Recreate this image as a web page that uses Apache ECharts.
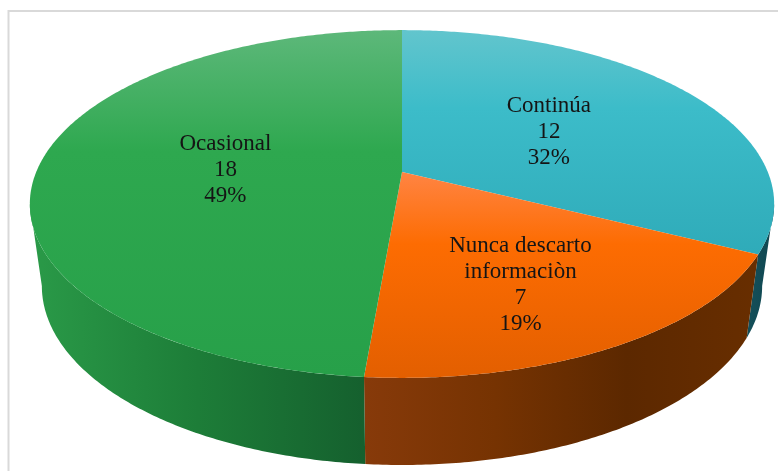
<!DOCTYPE html>
<html>
<head>
<meta charset="utf-8">
<style>
  html, body { margin: 0; padding: 0; background: #fff; }
  #chart { width: 778px; height: 471px; }
</style>
<script src="https://cdn.jsdelivr.net/npm/echarts@6/dist/echarts.min.js"></script>
</head>
<body>
<div id="chart"></div>
<script>
const categories = ['Continúa', 'Nunca descarto\ninformaciòn', 'Ocasional'];
const values = [12, 7, 18];

const topColors = [
  ['#62c5cd', '#3cbcc9', '#2fabb9'],
  ['#ff8443', '#fd6c02', '#e35f00'],
  ['#5db87a', '#2ea84f', '#27a049']
];
const wallColors = [
  ['#15505a', '#0f4650'],
  ['#873a0a', '#763302', '#5c2800', '#682e00'],
  ['#2a9a48', '#1d7d38', '#15602e']
];

// perspective of the disc
const k = 0.184;
const topFace = { cx: 402, cy: 172, sx: 365.8, sy: 168 };
const bottomFace = { cx: 402, cy: 253, sx: 354, sy: 173 };
const edgeAngle = Math.PI / 2 + Math.asin(k);   // where the rim turns away from the viewer

// label placement: fraction of radius along the mid angle, then a vertical nudge
const labelRadius = [0.494, 0.6, 0.485];
const labelNudge = [1, 16, 1];

const total = values.reduce((a, b) => a + b, 0);

const project = (face, r, a) => {
  const X = r * Math.sin(a);
  const Y = -r * Math.cos(a);
  const w = 1 - k * Y;
  return [face.cx + face.sx * X / w, face.cy + face.sy * Y / w];
};

const sliceAngles = (i) => {
  const before = values.slice(0, i).reduce((a, b) => a + b, 0);
  return [before / total * Math.PI * 2, (before + values[i]) / total * Math.PI * 2];
};

const arc = (face, from, to) => {
  const pts = [];
  const n = Math.max(2, Math.ceil(Math.abs(to - from) / 0.01));
  for (let j = 0; j <= n; j++) {
    pts.push(project(face, 1, from + (to - from) * j / n));
  }
  return pts;
};

const stops = (list) => list.map((color, j) => ({ offset: j / (list.length - 1), color }));

const renderWall = (params, api) => {
  const i = params.dataIndex;
  const [a0, a1] = sliceAngles(i);
  const from = Math.max(a0, edgeAngle);
  const to = Math.min(a1, Math.PI * 2 - edgeAngle);
  if (to <= from) return;
  const points = arc(topFace, from, to).concat(arc(bottomFace, from, to).reverse());
  return {
    type: 'polygon',
    shape: { points },
    style: {
      fill: new echarts.graphic.LinearGradient(0, 0, 1, 0, stops(wallColors[i]))
    }
  };
};

const renderTop = (params, api) => {
  const i = params.dataIndex;
  const [a0, a1] = sliceAngles(i);
  const points = [project(topFace, 0, 0)].concat(arc(topFace, a0, a1));
  const mid = (a0 + a1) / 2;
  const labelAt = project(topFace, labelRadius[i], mid);
  const pct = Math.round(api.value(0) / total * 100);
  return {
    type: 'group',
    children: [
      {
        type: 'polygon',
        shape: { points },
        style: {
          fill: new echarts.graphic.LinearGradient(0, 0, 0, 1, [
            { offset: 0, color: topColors[i][0] },
            { offset: 0.35, color: topColors[i][1] },
            { offset: 1, color: topColors[i][2] }
          ])
        }
      },
      {
        type: 'text',
        z2: 10,
        x: labelAt[0],
        y: labelAt[1] + labelNudge[i],
        style: {
          text: categories[i] + '\n' + api.value(0) + '\n' + pct + '%',
          font: '23px "Liberation Serif"',
          lineHeight: 26,
          fill: '#151515',
          align: 'center',
          verticalAlign: 'middle'
        }
      }
    ]
  };
};

const chart = echarts.init(document.getElementById('chart'), null, { renderer: 'canvas' });
chart.setOption({
  animation: false,
  backgroundColor: '#ffffff',
  graphic: [{
    type: 'rect',
    shape: { x: 8.5, y: 11, width: 800, height: 500 },
    style: { fill: 'none', stroke: '#d9d9d9', lineWidth: 2 },
    z: -1
  }],
  series: [
    { type: 'custom', coordinateSystem: 'none', data: values, renderItem: renderWall, z: 1 },
    { type: 'custom', coordinateSystem: 'none', data: values, renderItem: renderTop, z: 2 }
  ]
});
</script>
</body>
</html>
